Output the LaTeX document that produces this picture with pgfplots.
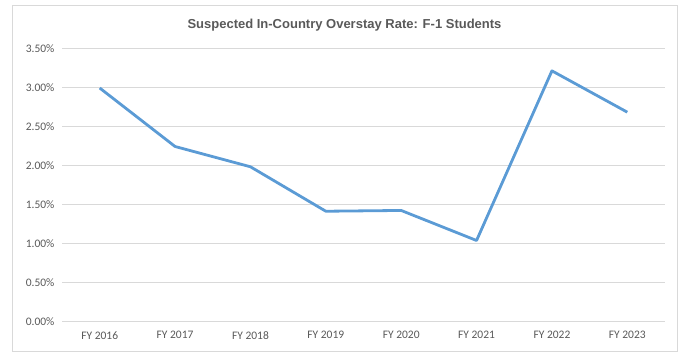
\documentclass[border=0pt]{standalone}
\usepackage{pgfplots}
\pgfplotsset{compat=1.18}
\usepackage{fontspec}
\setmainfont{Carlito}
\newfontfamily\titlefont{Liberation Sans}
\definecolor{txt}{HTML}{595959}
\definecolor{gridc}{HTML}{D9D9D9}
\definecolor{linec}{HTML}{5B9BD5}
\begin{document}
\begin{tikzpicture}
\path[use as bounding box] (0pt,0pt) rectangle (686pt,361pt);
\draw[gridc, line width=1pt] (12pt,9pt) rectangle (677pt,355pt);
\node[font=\titlefont\bfseries\fontsize{13}{15}\selectfont, text=txt, anchor=center] at (344.5pt,336pt) {Suspected In-Country Overstay Rate: F-1 Students};
\begin{axis}[
  at={(62pt,39pt)}, anchor=south west,
  scale only axis, width=603pt, height=273pt,
  xmin=-0.5, xmax=7.5, ymin=0, ymax=3.5,
  xtick={0,...,7},
  xticklabels={FY 2016,FY 2017,FY 2018,FY 2019,FY 2020,FY 2021,FY 2022,FY 2023},
  ytick={0,0.5,...,3.5},
  yticklabel={\pgfmathprintnumber[fixed,fixed zerofill,precision=2]{\tick}\%},
  /pgf/number format/assume math mode=true,
  ticklabel style={font=\fontsize{11.5}{13}\selectfont, text=txt},
  axis line style={draw=none},
  major tick length=0pt,
  ymajorgrids, major grid style={gridc, line width=1pt},
  xticklabel style={yshift=-6pt},
  yticklabel style={xshift=-4pt},
  clip=false,
]
\addplot[linec, line width=2.8pt, line join=round, mark=none] coordinates {
(0,3.00) (1,2.25) (2,1.99) (3,1.42) (4,1.43) (5,1.045) (6,3.22) (7,2.69)
};
\end{axis}
\end{tikzpicture}
\end{document}
